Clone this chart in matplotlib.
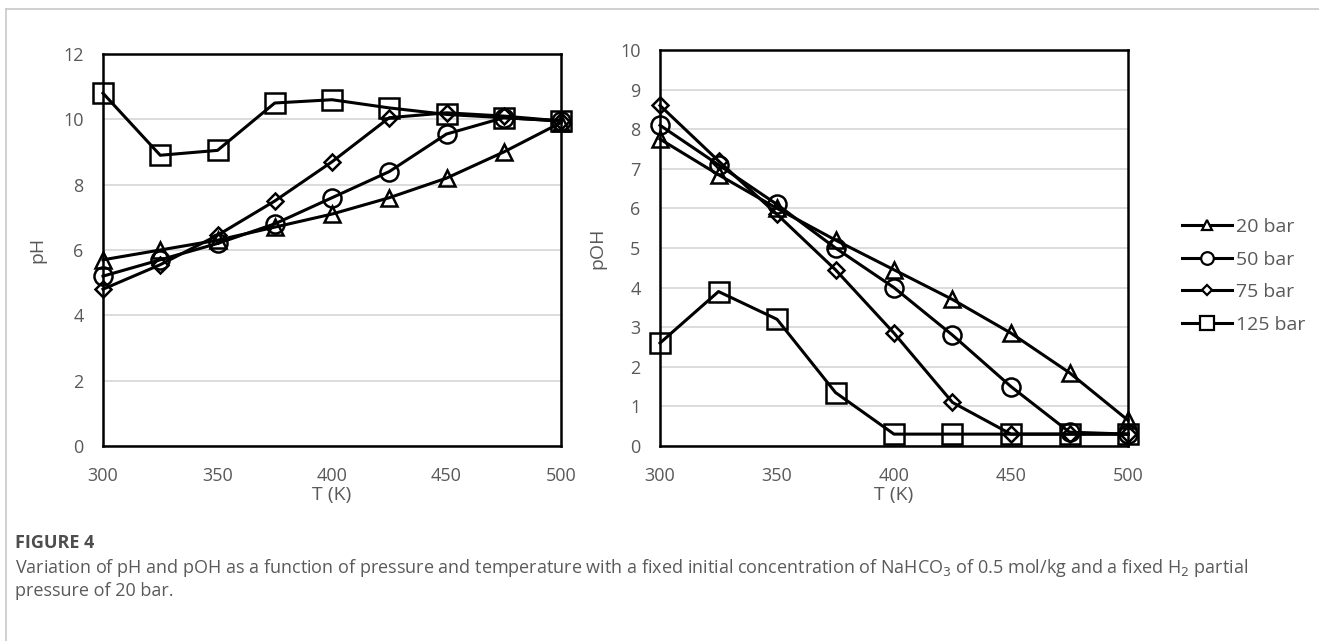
import matplotlib.pyplot as plt
from matplotlib.lines import Line2D

# temperature (K)
T = [300, 325, 350, 375, 400, 425, 450, 475, 500]

# pH values
ph_20 = [5.7, 6.0, 6.3, 6.7, 7.1, 7.6, 8.2, 9.0, 9.9]
ph_50 = [5.2, 5.7, 6.2, 6.8, 7.6, 8.4, 9.55, 10.05, 9.95]
ph_75 = [4.8, 5.55, 6.45, 7.5, 8.7, 10.05, 10.2, 10.1, 9.95]
ph_125 = [10.8, 8.9, 9.05, 10.5, 10.6, 10.35, 10.15, 10.05, 9.95]

# pOH values
poh_20 = [7.75, 6.85, 6.0, 5.2, 4.45, 3.7, 2.85, 1.85, 0.65]
poh_50 = [8.1, 7.1, 6.1, 5.0, 4.0, 2.8, 1.5, 0.35, 0.3]
poh_75 = [8.6, 7.2, 5.85, 4.45, 2.85, 1.1, 0.3, 0.3, 0.3]
poh_125 = [2.6, 3.9, 3.2, 1.35, 0.3, 0.3, 0.3, 0.3, 0.3]

labels = ['20 bar', '50 bar', '75 bar', '125 bar']
markers = ['^', 'o', 'D', 's']
msizes = [11, 13, 8, 14]

font = 'Open Sans'
tick_color = '#595959'

fig = plt.figure(figsize=(13.19, 6.41), dpi=100)
W, H = 1319, 641


def make_axes(x0, x1, y_top, y_bot):
    return fig.add_axes([x0 / W, 1 - y_bot / H, (x1 - x0) / W, (y_bot - y_top) / H])


ax1 = make_axes(103, 561, 54, 446)
ax2 = make_axes(660, 1128, 50, 446)


def style(ax, series, ymax, ylabel, ylabelpad, xlab_y):
    for vals, m, ms, lab in zip(series, markers, msizes, labels):
        ax.plot(T, vals, color='black', lw=2.2, marker=m, ms=ms,
                mfc='none', mec='black', mew=1.8, label=lab, zorder=3, clip_on=False)
    ax.set_xlim(300, 500)
    ax.set_ylim(0, ymax)
    ax.set_xticks([300, 350, 400, 450, 500])
    ax.set_yticks(range(0, ymax + 1, 2 if ymax == 12 else 1))
    ax.yaxis.grid(True, color='#d9d9d9', lw=1.3, zorder=0)
    ax.set_axisbelow(True)
    for s in ax.spines.values():
        s.set_linewidth(1.8)
        s.set_color('black')
    ax.tick_params(length=0, labelsize=13, colors=tick_color)
    ax.tick_params(axis='x', pad=15)
    ax.tick_params(axis='y', pad=14)
    for t in ax.get_xticklabels() + ax.get_yticklabels():
        t.set_family(font)
    ax.set_xlabel('T (K)', fontsize=14, color=tick_color, family=font)
    ax.xaxis.set_label_coords(0.5, xlab_y)
    ax.set_ylabel(ylabel, fontsize=14, color=tick_color, family=font, labelpad=ylabelpad)


style(ax1, [ph_20, ph_50, ph_75, ph_125], 12, 'pH', 12, -0.103)
style(ax2, [poh_20, poh_50, poh_75, poh_125], 10, 'pOH', 9.5, -0.102)

handles = [Line2D([], [], color='black', lw=2.2, marker=m, ms=ms * 0.7,
                  mfc='white', mec='black', mew=1.6) for m, ms in zip(markers, msizes)]
leg = fig.legend(handles, labels, loc='center left', bbox_to_anchor=(1164 / W, 1 - 276 / H),
                 frameon=False, handlelength=2.6, labelspacing=0.75,
                 handletextpad=0.2, prop={'family': font, 'size': 14})
for t in leg.get_texts():
    t.set_color(tick_color)

# caption
fig.text(15 / W, 1 - 543 / H, 'FIGURE 4', fontsize=13, fontweight='bold',
         color='#4d4d4d', family=font, va='center')
fig.text(15 / W, 1 - 568 / H,
         'Variation of pH and pOH as a function of pressure and temperature with a fixed initial '
         'concentration of NaHCO$_3$ of 0.5 mol/kg and a fixed H$_2$ partial',
         fontsize=13, color='#5a5a5a', family=font, va='center')
fig.text(15 / W, 1 - 591 / H, 'pressure of 20 bar.', fontsize=13, color='#5a5a5a',
         family=font, va='center')

# page border lines
fig.add_artist(Line2D([6 / W, 6 / W], [0, 1 - 9 / H], color='#c8c8c8', lw=1.2))
fig.add_artist(Line2D([6 / W, 1], [1 - 9 / H, 1 - 9 / H], color='#c8c8c8', lw=1.2))

fig.savefig('out.png', dpi=100)
